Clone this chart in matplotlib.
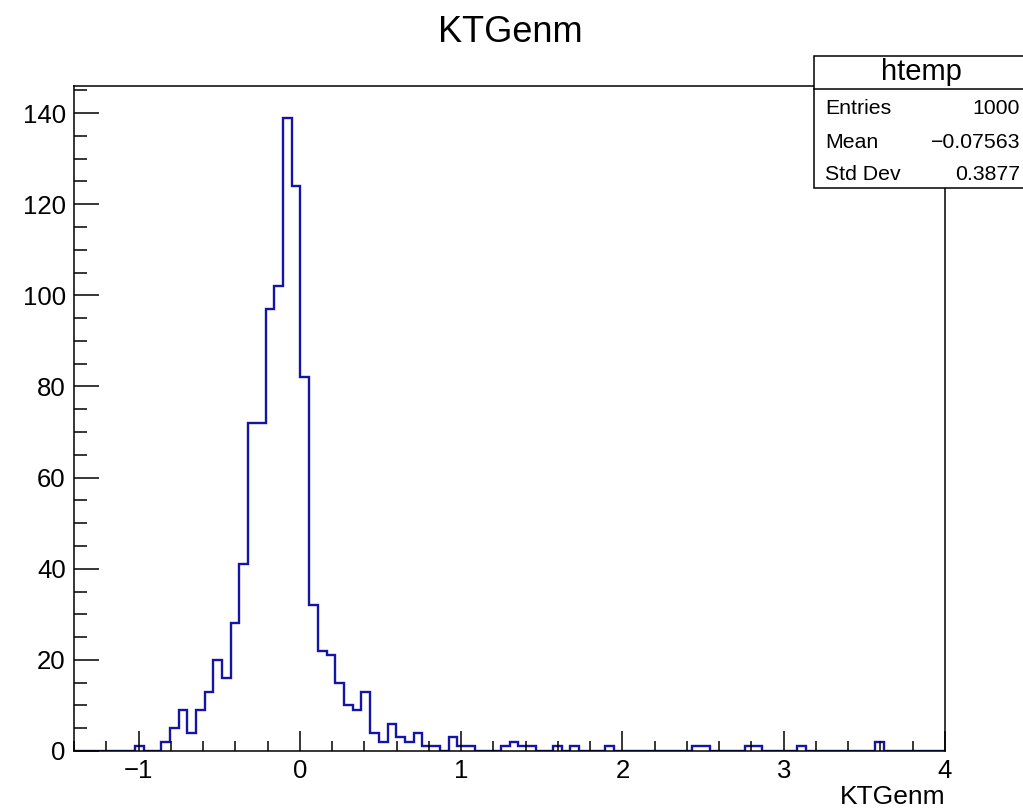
import numpy as np
import matplotlib
matplotlib.use("Agg")
import matplotlib.pyplot as plt
from matplotlib.patches import Rectangle
from matplotlib.lines import Line2D
from matplotlib.ticker import MultipleLocator, FixedLocator

plt.rcParams['font.family'] = ['Liberation Sans', 'DejaVu Sans']

# ---- data ----
X_MIN = -1.4
X_MAX = 4.0
N_BINS = 100
counts = [0, 0, 0, 0, 0, 0, 0, 1, 0, 0,
          2, 5, 9, 4, 9, 13, 20, 16, 28, 41,
          72, 72, 97, 102, 139, 124, 82, 32, 22, 21,
          15, 10, 9, 13, 4, 2, 6, 3, 2, 4,
          1, 1, 0, 3, 1, 1, 0, 0, 0, 1,
          2, 1, 1, 0, 0, 1, 0, 1, 0, 0,
          0, 1, 0, 0, 0, 0, 0, 0, 0, 0,
          0, 1, 1, 0, 0, 0, 0, 1, 1, 0,
          0, 0, 0, 1, 0, 0, 0, 0, 0, 0,
          0, 0, 2, 0, 0, 0, 0, 0, 0, 0]
title = "KTGenm"
xlabel = "KTGenm"
stats_name = "htemp"
stats_labels = ["Entries", "Mean", "Std Dev"]
stats_values = ["1000", "\u22120.07563", "0.3877"]
x_major_ticks = [-1, 0, 1, 2, 3, 4]
y_major_ticks = [0, 20, 40, 60, 80, 100, 120, 140]

W, H = 1023, 811
fig = plt.figure(figsize=(W / 100, H / 100), dpi=100)
fig.patch.set_facecolor('white')

def fx(px):
    return px / W

def fy(py):
    return 1 - py / H

ax_l, ax_r, ax_t, ax_b = 74, 945, 86, 751
ax = fig.add_axes([fx(ax_l), fy(ax_b), fx(ax_r - ax_l), (ax_b - ax_t) / H])

edges = np.linspace(X_MIN, X_MAX, N_BINS + 1)
ax.stairs(counts, edges, color='#1414a8', linewidth=1.7, baseline=0)

ax.set_xlim(X_MIN, X_MAX)
ax.set_ylim(0, 1.05 * max(counts))

ax.xaxis.set_major_locator(FixedLocator(x_major_ticks))
ax.xaxis.set_minor_locator(MultipleLocator(0.2))
ax.yaxis.set_major_locator(FixedLocator(y_major_ticks))
ax.yaxis.set_minor_locator(MultipleLocator(5))
ax.set_xticklabels(["\u22121" if t == -1 else str(t) for t in x_major_ticks])
ax.set_yticklabels([str(t) for t in y_major_ticks])

ax.tick_params(axis='x', which='major', direction='in', length=14.5, width=1.1,
               top=False, bottom=True, labelsize=18.5, pad=6)
ax.tick_params(axis='x', which='minor', direction='in', length=7.5, width=1.1,
               top=False, bottom=True)
ax.tick_params(axis='y', which='major', direction='in', length=18, width=1.1,
               left=True, right=False, labelsize=18.5, pad=6)
ax.tick_params(axis='y', which='minor', direction='in', length=9, width=1.1,
               left=True, right=False)
for s in ax.spines.values():
    s.set_linewidth(1.1)
    s.set_color('black')

# title
fig.text(fx(510), fy(32), title, ha='center', va='center', fontsize=26)
# x label
fig.text(fx(945), fy(797), xlabel, ha='right', va='center', fontsize=19)

# stats box
box_l, box_t, box_b, box_sep = 814, 56, 188, 89
rect = Rectangle((fx(box_l), fy(box_b)), fx(1040 - box_l), (box_b - box_t) / H,
                 transform=fig.transFigure, facecolor='white', edgecolor='black',
                 linewidth=1.1, clip_on=False, zorder=10)
fig.add_artist(rect)
fig.add_artist(Line2D([fx(box_l), fx(1040)], [fy(box_sep), fy(box_sep)],
                      transform=fig.transFigure, color='black', linewidth=1.1, zorder=11))
fig.text(fx(921), fy(72), stats_name, ha='center', va='center', fontsize=21, zorder=12)
rows_y = [109, 142, 175]
for lab, val, yy in zip(stats_labels, stats_values, rows_y):
    fig.text(fx(825), fy(yy), lab, ha='left', va='center', fontsize=15.3, zorder=12)
    fig.text(fx(1020), fy(yy), val, ha='right', va='center', fontsize=15.3, zorder=12)

fig.savefig("out.png", dpi=100, facecolor='white')
